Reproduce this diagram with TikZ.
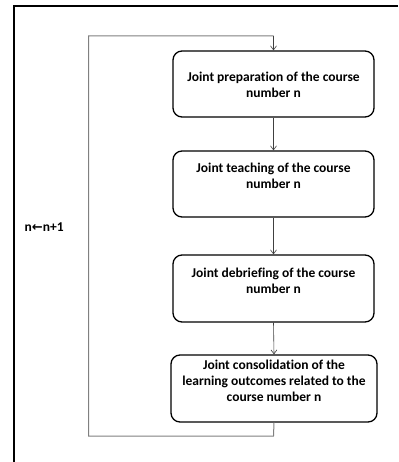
\documentclass[tikz,border=0pt]{standalone}
\usepackage{fontspec}
\setmainfont{Carlito}[Ligatures=NoCommon]
\newfontfamily\arrowfont{DejaVu Sans}
\usetikzlibrary{arrows.meta}
\begin{document}
\begin{tikzpicture}[x=1pt,y=-1pt,
  stepbox/.style={draw=black,line width=1.3pt,rounded corners=9pt,fill=white},
  lbl/.style={font=\bfseries\fontsize{13.5}{16}\selectfont,align=center,inner sep=0pt,anchor=base},
  flow/.style={draw=black!75,line width=0.6pt,-{Straight Barb[length=4pt,width=6pt]}},
  loop/.style={draw=black!50,line width=1pt}]
\useasboundingbox (0,0) rectangle (398,462);
\fill[white] (0,0) rectangle (398,462);
% frame (top and left only)
\draw[line width=2pt] (398,6) -- (14,6) -- (14,462);
% boxes
\node[stepbox,minimum width=201pt,minimum height=66pt] (b1) at (273.5,84) {};
\node[stepbox,minimum width=201pt,minimum height=66pt] (b2) at (273.5,184) {};
\node[stepbox,minimum width=201pt,minimum height=67pt] (b3) at (273.5,288.5) {};
\node[stepbox,minimum width=206pt,minimum height=67pt] (b4) at (274,388.5) {};
% texts (anchor base = baseline of last line)
\node[lbl] (t1) at (273.5,97.5) {Joint preparation of the course\\number n};
\node[lbl] (t2) at (273.5,188.5) {Joint teaching of the course\\number n};
\node[lbl] (t3) at (273.5,293.5) {Joint debriefing of the course\\number n};
\node[lbl] (t4) at (274,401.5) {Joint consolidation of the\\learning outcomes related to the\\course number n};
% connectors
\draw[flow] (b1.south) -- (b2.north);
\draw[flow] (b2.south) -- (b3.north);
\draw[flow] (b3.south) -- (b4.north);
\coordinate (c1) at (273.5,436);
\coordinate (c2) at (88.5,436);
\coordinate (c3) at (88.5,36);
\coordinate (c4) at (273.5,36);
\draw[loop] (b4.south) -- (c1) -- (c2) -- (c3) -- (c4);
\draw[flow] (c4) -- (b1.north);
% loop label
\node[font=\bfseries\fontsize{13.5}{14}\selectfont,inner sep=0pt,anchor=base west] (lab) at (24.5,231.5) {n{\arrowfont\bfseries\fontsize{13}{14}\selectfont ←}n+1};
\end{tikzpicture}
\end{document}
